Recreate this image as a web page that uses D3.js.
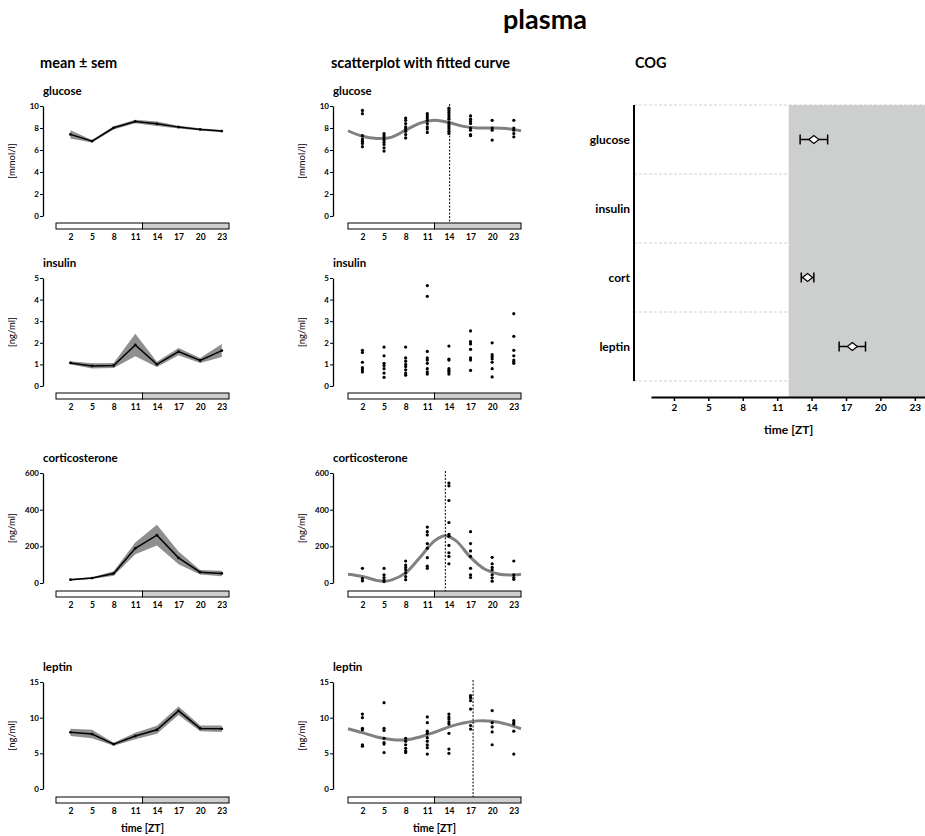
<!DOCTYPE html>
<html>
<head>
<meta charset="utf-8">
<script src="https://cdn.jsdelivr.net/npm/d3@7"></script>
<style>
body { margin: 0; background: #fff; }
text { font-family: Lato, "Open Sans", sans-serif; }
</style>
</head>
<body>
<div id="chart"></div>
<script>
// sampling times (ZT)
const hours = [2, 5, 8, 11, 14, 17, 20, 23];

// mean +- sem
const glucoseMean = [7.42, 6.8, 8.02, 8.59, 8.38, 8.08, 7.87, 7.72];
const glucoseSem = [0.38, 0.12, 0.15, 0.15, 0.2, 0.12, 0.1, 0.1];
const insulinMean = [1.07, 0.93, 0.95, 1.9, 1.0, 1.59, 1.18, 1.64];
const insulinSem = [0.08, 0.12, 0.12, 0.52, 0.12, 0.17, 0.12, 0.3];
const cortMean = [18, 27, 52, 189, 261, 137, 59, 52];
const cortSem = [5, 5, 12, 32, 57, 35, 12, 15];
const leptinMean = [7.94, 7.7, 6.28, 7.43, 8.3, 10.96, 8.49, 8.44];
const leptinSem = [0.5, 0.6, 0.2, 0.45, 0.55, 0.6, 0.4, 0.45];

// single values, one list per sampling time
const glucosePoints = [
  [9.6, 9.3, 7.3, 7.0, 6.8, 6.6, 6.3],
  [7.5, 7.3, 7.1, 6.9, 6.7, 6.5, 6.2, 5.9],
  [8.9, 8.7, 8.4, 8.1, 7.9, 7.7, 7.4, 7.1],
  [9.3, 9.1, 8.9, 8.7, 8.4, 8.1, 7.9, 7.6],
  [9.8, 9.6, 9.4, 9.2, 9.0, 8.8, 8.5, 8.3, 8.1, 7.9, 7.7, 7.5],
  [9.1, 8.8, 8.6, 8.4, 8.0, 7.8, 7.4, 7.3],
  [8.7, 8.0, 7.8, 6.9],
  [8.7, 8.0, 7.8, 7.5, 7.2]
];
const insulinPoints = [
  [1.65, 1.55, 1.1, 0.85, 0.75, 0.65],
  [1.8, 1.4, 1.05, 0.95, 0.8, 0.6, 0.4],
  [1.8, 1.3, 1.15, 1.0, 0.9, 0.75, 0.6, 0.5],
  [4.65, 4.15, 1.6, 1.3, 1.2, 1.05, 0.8, 0.65, 0.55],
  [1.85, 1.25, 1.2, 0.8, 0.72, 0.65, 0.55],
  [2.55, 2.05, 1.95, 1.7, 1.3, 1.2, 0.72],
  [2.0, 1.45, 1.35, 1.25, 1.1, 0.8, 0.42],
  [3.35, 2.3, 1.65, 1.4, 1.2, 1.12, 1.05]
];
const cortPoints = [
  [80, 25, 12],
  [80, 45, 30, 15, 8],
  [120, 98, 85, 72, 55, 35, 18],
  [305, 280, 262, 215, 190, 138, 92, 80],
  [545, 530, 450, 330, 265, 255, 205, 165, 145, 105],
  [280, 215, 175, 145, 80, 45, 30],
  [140, 105, 85, 72, 45, 28, 10],
  [120, 45, 30, 20]
];
const leptinPoints = [
  [10.5, 10.0, 8.5, 8.3, 6.2, 6.0],
  [12.1, 8.5, 8.2, 7.1, 6.5, 6.3, 5.1],
  [7.1, 6.7, 6.2, 5.7, 5.3, 5.1],
  [10.1, 9.3, 8.1, 7.8, 7.2, 6.7, 6.2, 5.8, 4.9],
  [10.5, 10.1, 9.8, 9.4, 9.1, 7.8, 5.6, 5.0],
  [13.1, 12.8, 12.4, 11.2, 8.9, 8.4],
  [11.0, 9.3, 8.7, 8.0, 6.2],
  [9.6, 9.3, 9.1, 8.1, 4.9]
];

// fitted curves
const glucoseFitT = [0, 2, 4, 6, 8, 10, 12, 14, 16, 18, 20, 22, 24];
const glucoseFit = [7.75, 7.25, 7.05, 7.15, 7.8, 8.45, 8.7, 8.5, 8.15, 8.0, 8.0, 7.95, 7.75];
const cortFitT = [0, 2, 4, 5, 6, 8, 10, 12, 13.5, 15, 17, 19, 21, 23, 24];
const cortFit = [48, 36, 14, 10, 16, 55, 140, 230, 258, 230, 140, 75, 48, 44, 48];
const leptinFitT = [0, 2, 4, 6, 8, 10, 12, 14, 16, 18, 20, 22, 24];
const leptinFit = [8.45, 7.9, 7.3, 6.95, 6.9, 7.3, 7.95, 8.7, 9.25, 9.55, 9.5, 9.1, 8.45];

// acrophase of the fit (dotted line)
const peaks = [14.1, null, 13.5, 17.35];

// centre of gravity
const cogLabels = ["glucose", "insulin", "cort", "leptin"];
const cogMean = [14.2, null, 13.65, 17.55];
const cogErr = [1.2, null, 0.55, 1.15];

const names = ["glucose", "insulin", "corticosterone", "leptin"];
const units = ["[mmol/l]", "[ng/ml]", "[ng/ml]", "[ng/ml]"];
const yMax = [10, 5, 600, 15];
const yTicks = [[0, 2, 4, 6, 8, 10], [0, 1, 2, 3, 4, 5], [0, 200, 400, 600], [0, 5, 10, 15]];

const means = [glucoseMean, insulinMean, cortMean, leptinMean];
const sems = [glucoseSem, insulinSem, cortSem, leptinSem];
const points = [glucosePoints, insulinPoints, cortPoints, leptinPoints];
const fits = [[glucoseFitT, glucoseFit], null, [cortFitT, cortFit], [leptinFitT, leptinFit]];

// layout
const rows = [
  { top: 106, zero: 216, bar: 223 },
  { top: 278, zero: 386, bar: 393 },
  { top: 473, zero: 583, bar: 591 },
  { top: 682, zero: 789, bar: 797 }
];
const cols = [
  { axis: 43, x0: 56, x1: 229, lab: 15 },
  { axis: 333, x0: 348, x1: 521, lab: 305 }
];

const svg = d3.select("#chart").append("svg")
  .attr("width", 925).attr("height", 836);

svg.append("text").attr("x", 545).attr("y", 29)
  .attr("text-anchor", "middle").attr("font-size", 27).attr("font-weight", "bold")
  .text("plasma");

const heads = [["mean \u00b1 sem", 40], ["scatterplot with fitted curve", 331], ["COG", 635]];
heads.forEach(function (h) {
  svg.append("text").attr("x", h[1]).attr("y", 68)
    .attr("font-size", 14.5).attr("font-weight", "bold").text(h[0]);
});

function drawFrame(g, r, c, i, x, y) {
  g.append("text").attr("x", c.axis).attr("y", r.top - 11)
    .attr("font-size", 11.5).attr("font-weight", "bold").text(names[i]);

  var ya = g.append("g").attr("transform", "translate(" + c.axis + ",0)")
    .call(d3.axisLeft(y).tickValues(yTicks[i]).tickFormat(d3.format("d"))
      .tickSize(3).tickSizeOuter(0).tickPadding(1));
  ya.select(".domain").attr("stroke-width", 1.3);
  ya.selectAll("text").attr("font-size", 8).attr("font-weight", "bold");

  g.append("text")
    .attr("transform", "translate(" + c.lab + "," + ((r.top + r.zero) / 2) + ") rotate(-90)")
    .attr("text-anchor", "middle").attr("font-size", 9.5).text(units[i]);

  // light / dark bar
  g.append("rect").attr("x", x(0)).attr("y", r.bar).attr("width", x(12) - x(0)).attr("height", 6)
    .attr("fill", "#fff").attr("stroke", "#000").attr("stroke-width", 1);
  g.append("rect").attr("x", x(12)).attr("y", r.bar).attr("width", x(24) - x(12)).attr("height", 6)
    .attr("fill", "#cdcfce").attr("stroke", "#000").attr("stroke-width", 1);

  var xa = g.append("g").attr("transform", "translate(0," + (r.bar + 6) + ")")
    .call(d3.axisBottom(x).tickValues(hours).tickSize(0).tickPadding(5));
  xa.select(".domain").remove();
  xa.selectAll("text").attr("font-size", 8.5).attr("font-weight", "bold");

  if (i == 3) {
    g.append("text").attr("x", (x(0) + x(24)) / 2).attr("y", 832)
      .attr("text-anchor", "middle").attr("font-size", 10.5).attr("font-weight", "bold")
      .text("time [ZT]");
  }
}

rows.forEach(function (r, i) {
  // mean +- sem column
  var c = cols[0];
  var x = d3.scaleLinear().domain([0, 24]).range([c.x0, c.x1]);
  var y = d3.scaleLinear().domain([0, yMax[i]]).range([r.zero, r.top]);
  var g = svg.append("g");
  drawFrame(g, r, c, i, x, y);

  var data = hours.map(function (h, k) { return { h: h, m: means[i][k], s: sems[i][k] }; });
  var area = d3.area()
    .x(function (d) { return x(d.h); })
    .y0(function (d) { return y(d.m - d.s); })
    .y1(function (d) { return y(d.m + d.s); });
  g.append("path").attr("d", area(data)).attr("fill", "#8f8f8f");
  var line = d3.line()
    .x(function (d) { return x(d.h); })
    .y(function (d) { return y(d.m); });
  g.append("path").attr("d", line(data)).attr("fill", "none")
    .attr("stroke", "#000").attr("stroke-width", 1.5);
  g.selectAll(".pt").data(data).enter().append("circle")
    .attr("cx", function (d) { return x(d.h); })
    .attr("cy", function (d) { return y(d.m); })
    .attr("r", 1.4).attr("fill", "#000");

  // scatter column
  c = cols[1];
  x = d3.scaleLinear().domain([0, 24]).range([c.x0, c.x1]);
  y = d3.scaleLinear().domain([0, yMax[i]]).range([r.zero, r.top]);
  g = svg.append("g");
  drawFrame(g, r, c, i, x, y);

  if (fits[i]) {
    var fd = fits[i][0].map(function (t, k) { return [t, fits[i][1][k]]; });
    var fline = d3.line().curve(d3.curveCatmullRom)
      .x(function (d) { return x(d[0]); })
      .y(function (d) { return y(d[1]); });
    g.append("path").attr("d", fline(fd)).attr("fill", "none")
      .attr("stroke", "#808080").attr("stroke-width", 3);
  }
  var sc = [];
  hours.forEach(function (h, k) {
    points[i][k].forEach(function (v) { sc.push({ h: h, v: v }); });
  });
  g.selectAll(".dot").data(sc).enter().append("circle")
    .attr("cx", function (d) { return x(d.h); })
    .attr("cy", function (d) { return y(d.v); })
    .attr("r", 1.6).attr("fill", "#000");
  if (peaks[i] != null) {
    g.append("line").attr("x1", x(peaks[i])).attr("x2", x(peaks[i]))
      .attr("y1", r.top - 2).attr("y2", r.bar)
      .attr("stroke", "#000").attr("stroke-width", 1).attr("stroke-dasharray", "2,1.5");
  }
});

// COG panel
const cx = d3.scaleLinear().domain([0, 24]).range([651, 926.3]);
const cy = d3.scaleBand().domain(cogLabels).range([105, 381]);
const cg = svg.append("g");

const gridY = cogLabels.map(function (d) { return cy(d); }).concat([381]);
cg.selectAll(".grid").data(gridY).enter().append("line")
  .attr("x1", 634).attr("x2", 925)
  .attr("y1", function (d) { return d; }).attr("y2", function (d) { return d; })
  .attr("stroke", "#d0d0d0").attr("stroke-width", 1).attr("stroke-dasharray", "3,2");
cg.append("rect").attr("x", cx(12)).attr("y", 105)
  .attr("width", 925 - cx(12)).attr("height", 397 - 105).attr("fill", "#cdcfce");

cg.append("line").attr("x1", 634).attr("x2", 634).attr("y1", 105).attr("y2", 381)
  .attr("stroke", "#000").attr("stroke-width", 2);
cg.selectAll(".lab").data(cogLabels).enter().append("text")
  .attr("x", 630).attr("y", function (d) { return cy(d) + cy.bandwidth() / 2 + 4; })
  .attr("text-anchor", "end").attr("font-size", 12).attr("font-weight", "bold")
  .text(function (d) { return d; });

const cxa = cg.append("g").attr("transform", "translate(0,397)")
  .call(d3.axisBottom(cx).tickValues(hours).tickSize(4).tickSizeOuter(0).tickPadding(3));
cxa.select(".domain").attr("stroke-width", 2);
cxa.selectAll(".tick line").attr("stroke-width", 1.5);
cxa.selectAll("text").attr("font-size", 10).attr("font-weight", "bold");
cg.append("text").attr("x", cx(12)).attr("y", 434)
  .attr("text-anchor", "middle").attr("font-size", 12).attr("font-weight", "bold")
  .text("time [ZT]");

cogLabels.forEach(function (lab, k) {
  if (cogMean[k] == null) return;
  var yc = cy(lab) + cy.bandwidth() / 2;
  var a = cx(cogMean[k] - cogErr[k]), b = cx(cogMean[k] + cogErr[k]), m = cx(cogMean[k]);
  cg.append("line").attr("x1", a).attr("x2", b).attr("y1", yc).attr("y2", yc)
    .attr("stroke", "#000").attr("stroke-width", 1.5);
  [a, b].forEach(function (e) {
    cg.append("line").attr("x1", e).attr("x2", e).attr("y1", yc - 5).attr("y2", yc + 5)
      .attr("stroke", "#000").attr("stroke-width", 1.5);
  });
  cg.append("path")
    .attr("d", "M" + (m - 5) + "," + yc + "L" + m + "," + (yc - 4) + "L" + (m + 5) + "," + yc + "L" + m + "," + (yc + 4) + "Z")
    .attr("fill", "#fff").attr("stroke", "#000").attr("stroke-width", 1.2);
});
</script>
</body>
</html>
